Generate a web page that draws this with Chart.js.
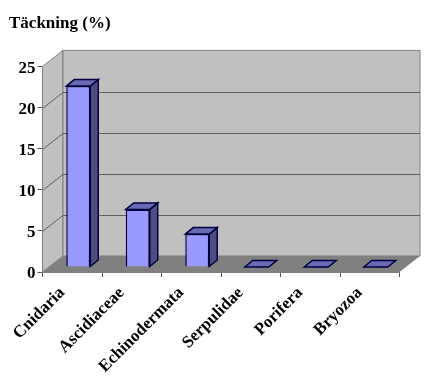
<!DOCTYPE html>
<html lang="en">
<head>
    <meta charset="UTF-8">
    <title>Täckning</title>
    <script src="https://cdn.jsdelivr.net/npm/chart.js"></script>
    <style>
        body { margin: 0; background: #fff; }
        canvas { display: block; }
    </style>
</head>
<body>
    <canvas id="myChart" width="428" height="385"></canvas>

    <script>
        const categories = ['Cnidaria', 'Ascidiaceae', 'Echinodermata', 'Serpulidae', 'Porifera', 'Bryozoa'];
        const coverage = [22, 7, 4, 0, 0, 0];
        const chartTitle = 'Täckning (%)';
        const yMax = 25;
        const yStep = 5;

        const fontFamily = '"Liberation Serif", "Times New Roman", serif';

        // depth of the fake 3D box, and of each bar inside it
        const wallDx = 20.5, wallDy = -16;
        const barShiftX = 6, barShiftY = -5;
        const barDx = 8, barDy = -6.5;

        function poly(ctx, pts, fill, stroke, lw) {
            ctx.beginPath();
            pts.forEach((p, i) => i ? ctx.lineTo(p[0], p[1]) : ctx.moveTo(p[0], p[1]));
            ctx.closePath();
            if (fill) { ctx.fillStyle = fill; ctx.fill(); }
            if (stroke) { ctx.strokeStyle = stroke; ctx.lineWidth = lw; ctx.stroke(); }
        }

        const box3d = {
            id: 'box3d',
            // walls and floor go behind everything
            beforeDraw(chart) {
                const ctx = chart.ctx, y = chart.scales.y;
                const { left, right, top, bottom } = chart.chartArea;
                ctx.save();
                poly(ctx, [[left, bottom], [left, top], [left + wallDx, top + wallDy], [left + wallDx, bottom + wallDy]], '#c0c0c0', '#808080', 1);
                poly(ctx, [[left + wallDx, top + wallDy], [right + wallDx, top + wallDy], [right + wallDx, bottom + wallDy], [left + wallDx, bottom + wallDy]], '#c0c0c0', '#808080', 1);
                poly(ctx, [[left, bottom], [left + wallDx, bottom + wallDy], [right + wallDx, bottom + wallDy], [right, bottom]], '#808080');
                ctx.strokeStyle = '#5f5f5f';
                ctx.lineWidth = 1;
                y.ticks.forEach(t => {
                    if (t.value === 0 || t.value === yMax) return;
                    const py = Math.round(y.getPixelForValue(t.value)) + 0.5;
                    ctx.beginPath();
                    ctx.moveTo(left, py);
                    ctx.lineTo(left + wallDx, py + wallDy);
                    ctx.lineTo(right + wallDx, py + wallDy);
                    ctx.stroke();
                });
                ctx.restore();
            },
            beforeDatasetsDraw(chart) {
                chart.ctx.save();
                chart.ctx.translate(barShiftX, barShiftY);
            },
            afterDatasetsDraw(chart) {
                const ctx = chart.ctx;
                chart.getDatasetMeta(0).data.forEach(bar => {
                    const l = bar.x - bar.width / 2, r = bar.x + bar.width / 2;
                    const t = bar.y, b = bar.base;
                    if (b - t > 0.5) {
                        poly(ctx, [[r, t], [r + barDx, t + barDy], [r + barDx, b + barDy], [r, b]], '#4d4d80', '#000040', 1.5);
                    }
                    poly(ctx, [[l, t], [l + barDx, t + barDy], [r + barDx, t + barDy], [r, t]], '#6a6ab4', '#000040', 1.5);
                });
                ctx.restore();
            }
        };

        new Chart(document.getElementById('myChart').getContext('2d'), {
            type: 'bar',
            plugins: [box3d],
            data: {
                labels: categories,
                datasets: [{
                    data: coverage,
                    backgroundColor: '#9999ff',
                    borderColor: '#000040',
                    borderWidth: 1.5,
                    categoryPercentage: 1,
                    barPercentage: 0.403
                }]
            },
            options: {
                responsive: false,
                animation: false,
                layout: { padding: { left: 9, right: 28.5, top: 0, bottom: 0 } },
                plugins: {
                    legend: { display: false },
                    tooltip: { enabled: false },
                    title: {
                        display: true,
                        text: chartTitle,
                        align: 'start',
                        color: '#000',
                        font: { family: fontFamily, size: 17, weight: 'bold' },
                        padding: { top: 13, bottom: 33 }
                    }
                },
                scales: {
                    x: {
                        afterFit(s) { s.height = 113; },
                        grid: { drawOnChartArea: false, color: '#555', tickLength: 5 },
                        border: { color: '#808080' },
                        ticks: {
                            minRotation: 45,
                            maxRotation: 45,
                            padding: 6,
                            labelOffset: -10,
                            color: '#000',
                            font: { family: fontFamily, size: 17, weight: 'bold' }
                        }
                    },
                    y: {
                        min: 0,
                        max: yMax,
                        afterFit(s) { s.width = 33.5; },
                        grid: { drawOnChartArea: false, color: '#555', tickLength: 5 },
                        border: { color: '#808080' },
                        ticks: {
                            stepSize: yStep,
                            padding: 2,
                            labelOffset: 2,
                            color: '#000',
                            font: { family: fontFamily, size: 17, weight: 'bold' }
                        }
                    }
                }
            }
        });
    </script>
</body>
</html>
